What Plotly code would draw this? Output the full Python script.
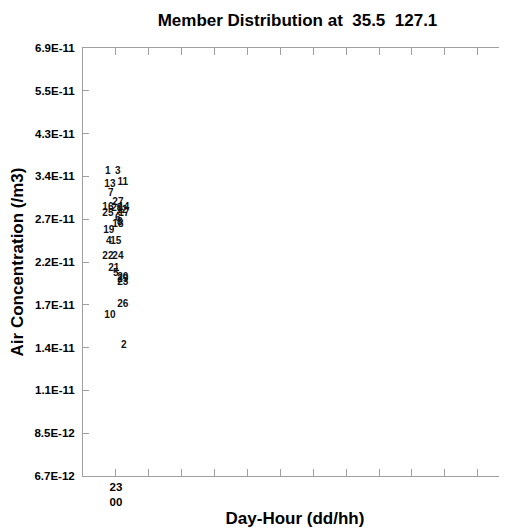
import numpy as np
import plotly.graph_objects as go

# ---- data ----
members = ["1", "3", "13", "11", "7", "27", "16", "28", "14", "12", "25", "17",
           "6", "8", "18", "19", "4", "15", "22", "24", "21", "5", "20", "29",
           "23", "26", "10", "2"]
time_offset = [0.757, 1.061, 0.818, 1.21, 0.848, 1.061, 0.757, 1.03, 1.24, 1.18,
               0.757, 1.24, 1.061, 1.12, 1.061, 0.787, 0.787, 1.0, 0.757, 1.061,
               0.939, 1.0, 1.21, 1.21, 1.21, 1.21, 0.818, 1.24]
concentration = [3.54e-11, 3.54e-11, 3.29e-11, 3.33e-11, 3.14e-11, 2.99e-11,
                 2.90e-11, 2.89e-11, 2.90e-11, 2.86e-11, 2.81e-11, 2.81e-11,
                 2.73e-11, 2.68e-11, 2.65e-11, 2.57e-11, 2.42e-11, 2.42e-11,
                 2.23e-11, 2.23e-11, 2.08e-11, 2.03e-11, 1.99e-11, 1.96e-11,
                 1.93e-11, 1.71e-11, 1.61e-11, 1.37e-11]

y_min, y_max = 6.74e-12, 6.92e-11
y_tick_text = ["6.7E-12", "8.5E-12", "1.1E-11", "1.4E-11", "1.7E-11", "2.2E-11",
               "2.7E-11", "3.4E-11", "4.3E-11", "5.5E-11", "6.9E-11"]
x_tick_vals = list(range(1, 13))
x_tick_text = ["23<br>00"] + [""] * 11

lo, hi = np.log10(y_min), np.log10(y_max)
y_tick_vals = [10 ** (lo + i * (hi - lo) / 10) for i in range(11)]

FONT = "Liberation Sans"
AX = "#a0a0a0"
W, H = 499, 524  # page body has an 8px margin

fig = go.Figure()
fig.add_trace(go.Scatter(
    x=time_offset, y=concentration, mode="text", text=members,
    textposition="middle center",
    textfont=dict(family=FONT, size=10, color="#111111", weight="bold"),
    hoverinfo="skip", showlegend=False,
))

fig.update_layout(
    width=W, height=H,
    margin=dict(l=75, r=0, t=40, b=56, autoexpand=False),
    paper_bgcolor="white", plot_bgcolor="white",
    title=dict(text="<b>Member Distribution at  35.5  127.1</b>",
               x=289.5 / W, xanchor="center",
               yref="container", y=1 - 12 / H, yanchor="middle",
               font=dict(family=FONT, size=17, color="black")),
    font=dict(family=FONT, color="black"),
)
fig.update_xaxes(
    range=[0, 12.89], showgrid=False, zeroline=False, automargin=False,
    showline=True, linecolor=AX, linewidth=1, mirror="ticks",
    ticks="inside", ticklen=7, tickcolor=AX,
    tickvals=x_tick_vals, ticktext=x_tick_text,
    tickfont=dict(family=FONT, size=11.5, color="black", weight="bold"),
    title=dict(text="<b>Day-Hour (dd/hh)</b>", standoff=5,
               font=dict(family=FONT, size=17, color="black")),
)
fig.update_yaxes(
    type="log", range=[lo, hi], showgrid=False, zeroline=False, automargin=False,
    showline=True, linecolor=AX, linewidth=1, mirror="ticks",
    ticks="inside", ticklen=6, tickcolor=AX,
    tickvals=y_tick_vals, ticktext=y_tick_text,
    ticklabelstandoff=5,
    tickfont=dict(family=FONT, size=11.5, color="black", weight="bold"),
    title=dict(text="<b>Air Concentration (/m3)</b>", standoff=8,
               font=dict(family=FONT, size=17, color="black")),
)

fig.write_html("out.html")
